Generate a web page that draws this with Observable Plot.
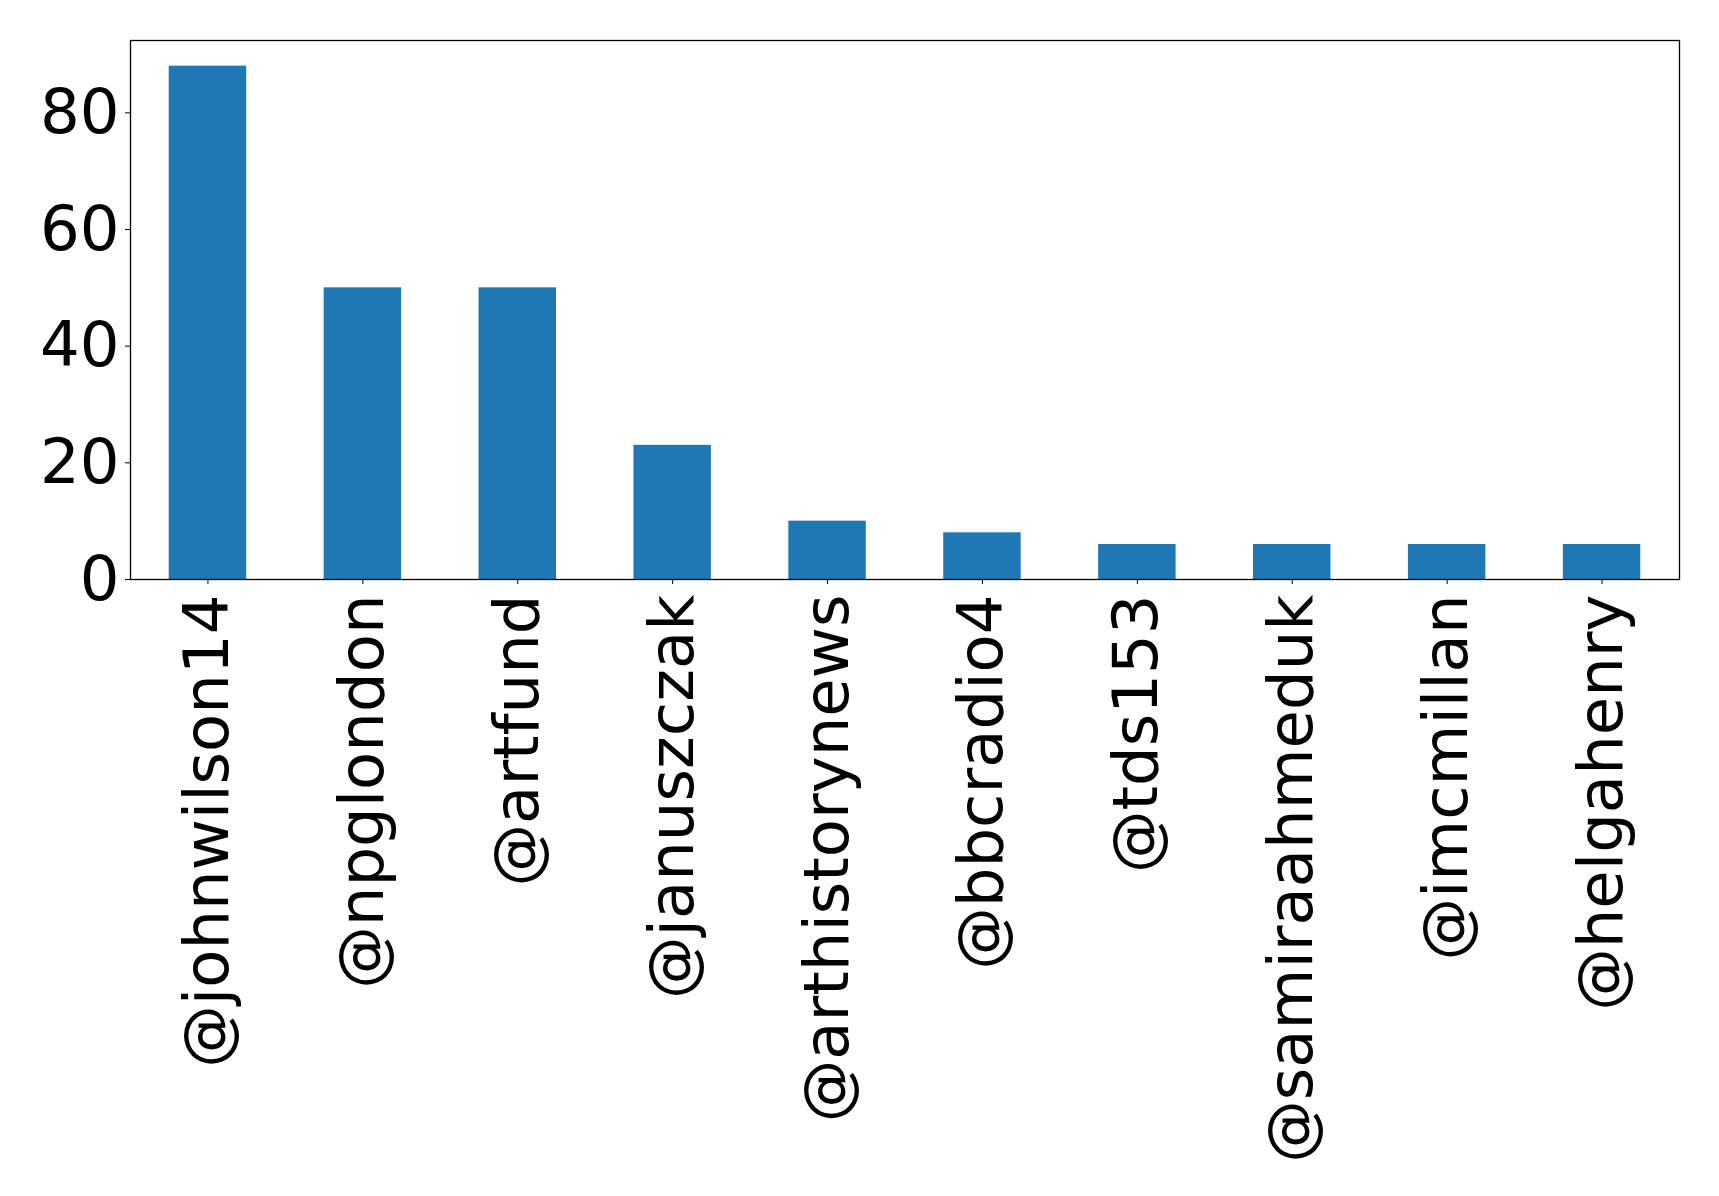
<!DOCTYPE html>
<html>
<head>
<meta charset="utf-8">
<script src="https://cdn.jsdelivr.net/npm/d3@7"></script>
<script src="https://cdn.jsdelivr.net/npm/@observablehq/plot@0.6"></script>
<style>
  html, body { margin: 0; padding: 0; background: #fff; }
</style>
</head>
<body>
<div id="chart"></div>
<script>
const handles = ["@johnwilson14", "@npglondon", "@artfund", "@januszczak", "@arthistorynews",
                 "@bbcradio4", "@tds153", "@samiraahmeduk", "@imcmillan", "@helgahenry"];
const counts = [88, 50, 50, 23, 10, 8, 6, 6, 6, 6];
const yTicks = [0, 20, 40, 60, 80];

const data = handles.map((h, i) => ({handle: h, count: counts[i]}));

const chart = Plot.plot({
  width: 1719,
  height: 1196,
  marginLeft: 130,
  marginRight: 40,
  marginTop: 40,
  marginBottom: 617,
  style: {fontFamily: "'DejaVu Sans', sans-serif", fontSize: "62.5px", background: "#fff", color: "#000"},
  x: {type: "band", domain: handles, paddingInner: 0.5, paddingOuter: 0.25, round: false, label: null},
  y: {domain: [0, 92.4], label: null},
  marks: [
    Plot.barY(data, {x: "handle", y: "count", fill: "#1f77b4"}),
    Plot.axisY({ticks: yTicks, tickSize: 5, tickPadding: 6, fontSize: 62.5, label: null, strokeWidth: 1}),
    Plot.axisX({tickRotate: -90, tickSize: 5, tickPadding: 10, fontSize: 62.5, label: null, strokeWidth: 1}),
    Plot.frame({stroke: "#000", strokeWidth: 1.3})
  ]
});
document.getElementById("chart").appendChild(chart);
</script>
</body>
</html>
